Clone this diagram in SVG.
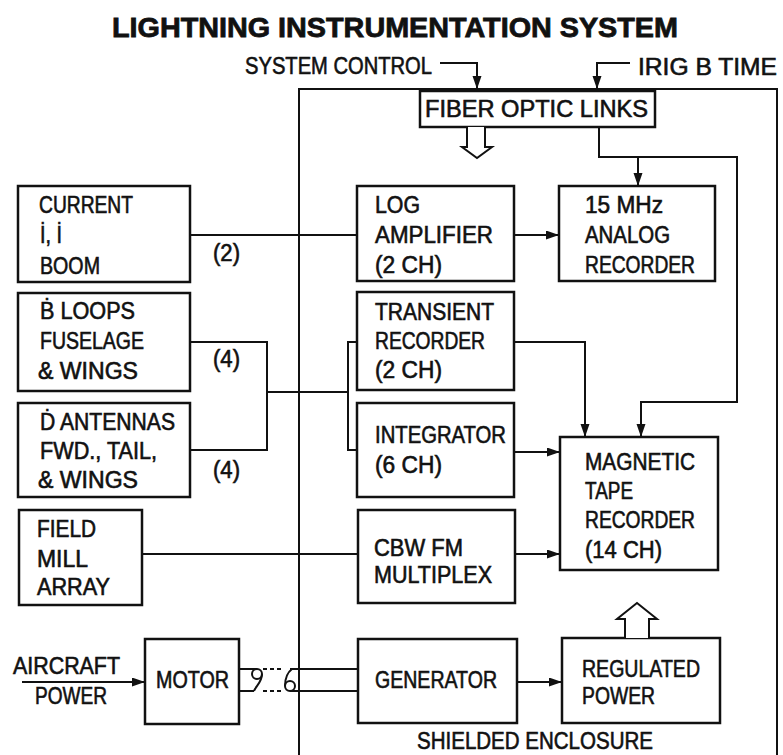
<svg xmlns="http://www.w3.org/2000/svg" width="783" height="755" viewBox="0 0 783 755">
<style>
.t{font-family:"Liberation Sans",Arial,sans-serif;font-size:23px;fill:#111;stroke:#111;stroke-width:0.6}
.ti{font-family:"Liberation Sans",Arial,sans-serif;font-size:28px;font-weight:bold;fill:#111;stroke:#111;stroke-width:0.8}
.b{fill:none;stroke:#111;stroke-width:2.5}
.c{fill:none;stroke:#111;stroke-width:2}
.a{marker-end:url(#ah)}
.h{fill:#fff;stroke:#111;stroke-width:2;stroke-linejoin:miter}
</style>
<defs>
<marker id="ah" markerUnits="userSpaceOnUse" markerWidth="14" markerHeight="10" refX="13" refY="4.5" orient="auto">
<path d="M0,0 L13,4.5 L0,9 z" fill="#111"/>
</marker>
</defs>
<rect width="783" height="755" fill="#fff"/>
<text class="ti" x="112" y="37" textLength="566" lengthAdjust="spacingAndGlyphs">LIGHTNING INSTRUMENTATION SYSTEM</text>
<text class="t" x="245" y="74" textLength="187" lengthAdjust="spacingAndGlyphs">SYSTEM CONTROL</text>
<text class="t" x="638" y="75" textLength="139" lengthAdjust="spacingAndGlyphs">IRIG B TIME</text>
<g id="enclosure">
<path class="c" d="M299,755 V89 H777 V755"/>
<text class="t" x="417" y="749" textLength="236" lengthAdjust="spacingAndGlyphs">SHIELDED ENCLOSURE</text>
</g>
<g id="fiber">
<rect class="b" x="420" y="91" width="235" height="36" fill="#fff"/>
<text class="t" x="425" y="117" textLength="223" lengthAdjust="spacingAndGlyphs">FIBER OPTIC LINKS</text>
</g>
<g id="current">
<rect class="b" x="18" y="186" width="172" height="96"/>
<text class="t" x="39" y="213" textLength="94" lengthAdjust="spacingAndGlyphs">CURRENT</text>
<text class="t" x="40" y="243" textLength="22" lengthAdjust="spacingAndGlyphs">İ, İ</text>
<text class="t" x="40" y="274" textLength="60" lengthAdjust="spacingAndGlyphs">BOOM</text>
</g>
<g id="bloops">
<rect class="b" x="18" y="293" width="172" height="98"/>
<text class="t" x="40" y="319" textLength="95" lengthAdjust="spacingAndGlyphs">Ḃ LOOPS</text>
<text class="t" x="40" y="349" textLength="104" lengthAdjust="spacingAndGlyphs">FUSELAGE</text>
<text class="t" x="38" y="379" textLength="100" lengthAdjust="spacingAndGlyphs">&amp; WINGS</text>
</g>
<g id="dantennas">
<rect class="b" x="18" y="403" width="172" height="94"/>
<text class="t" x="40" y="430" textLength="135" lengthAdjust="spacingAndGlyphs">Ḋ ANTENNAS</text>
<text class="t" x="40" y="459" textLength="117" lengthAdjust="spacingAndGlyphs">FWD., TAIL,</text>
<text class="t" x="38" y="488" textLength="100" lengthAdjust="spacingAndGlyphs">&amp; WINGS</text>
</g>
<g id="fieldmill">
<rect class="b" x="19" y="510" width="123" height="95"/>
<text class="t" x="37" y="537" textLength="59" lengthAdjust="spacingAndGlyphs">FIELD</text>
<text class="t" x="37" y="567" textLength="51" lengthAdjust="spacingAndGlyphs">MILL</text>
<text class="t" x="37" y="595" textLength="73" lengthAdjust="spacingAndGlyphs">ARRAY</text>
</g>
<g id="motor">
<rect class="b" x="145" y="639" width="94" height="85"/>
<text class="t" x="156" y="688" textLength="73" lengthAdjust="spacingAndGlyphs">MOTOR</text>
</g>
<g id="aircraftpower">
<text class="t" x="13" y="674" textLength="107" lengthAdjust="spacingAndGlyphs">AIRCRAFT</text>
<text class="t" x="35" y="704" textLength="72" lengthAdjust="spacingAndGlyphs">POWER</text>
</g>
<g id="logamp">
<rect class="b" x="357" y="186" width="157" height="95"/>
<text class="t" x="375" y="213" textLength="45" lengthAdjust="spacingAndGlyphs">LOG</text>
<text class="t" x="375" y="243" textLength="118" lengthAdjust="spacingAndGlyphs">AMPLIFIER</text>
<text class="t" x="375" y="273" textLength="67" lengthAdjust="spacingAndGlyphs">(2 CH)</text>
</g>
<g id="analog">
<rect class="b" x="559" y="186" width="156" height="95"/>
<text class="t" x="585" y="213" textLength="78" lengthAdjust="spacingAndGlyphs">15 MHz</text>
<text class="t" x="585" y="243" textLength="85" lengthAdjust="spacingAndGlyphs">ANALOG</text>
<text class="t" x="585" y="273" textLength="110" lengthAdjust="spacingAndGlyphs">RECORDER</text>
</g>
<g id="transient">
<rect class="b" x="357" y="292" width="157" height="98"/>
<text class="t" x="375" y="320" textLength="119" lengthAdjust="spacingAndGlyphs">TRANSIENT</text>
<text class="t" x="375" y="349" textLength="110" lengthAdjust="spacingAndGlyphs">RECORDER</text>
<text class="t" x="375" y="378" textLength="67" lengthAdjust="spacingAndGlyphs">(2 CH)</text>
</g>
<g id="integrator">
<rect class="b" x="357" y="403" width="157" height="94"/>
<text class="t" x="375" y="443" textLength="131" lengthAdjust="spacingAndGlyphs">INTEGRATOR</text>
<text class="t" x="375" y="473" textLength="67" lengthAdjust="spacingAndGlyphs">(6 CH)</text>
</g>
<g id="magtape">
<rect class="b" x="560" y="437" width="158" height="133"/>
<text class="t" x="585" y="470" textLength="110" lengthAdjust="spacingAndGlyphs">MAGNETIC</text>
<text class="t" x="585" y="499" textLength="48" lengthAdjust="spacingAndGlyphs">TAPE</text>
<text class="t" x="585" y="528" textLength="110" lengthAdjust="spacingAndGlyphs">RECORDER</text>
<text class="t" x="585" y="558" textLength="77" lengthAdjust="spacingAndGlyphs">(14 CH)</text>
</g>
<g id="cbw">
<rect class="b" x="358" y="510" width="157" height="93"/>
<text class="t" x="374" y="556" textLength="89" lengthAdjust="spacingAndGlyphs">CBW FM</text>
<text class="t" x="374" y="583" textLength="118" lengthAdjust="spacingAndGlyphs">MULTIPLEX</text>
</g>
<g id="generator">
<rect class="b" x="358" y="639" width="159" height="84"/>
<text class="t" x="375" y="688" textLength="122" lengthAdjust="spacingAndGlyphs">GENERATOR</text>
</g>
<g id="regulated">
<rect class="b" x="562" y="638" width="158" height="85"/>
<text class="t" x="582" y="677" textLength="118" lengthAdjust="spacingAndGlyphs">REGULATED</text>
<text class="t" x="582" y="704" textLength="73" lengthAdjust="spacingAndGlyphs">POWER</text>
</g>
<g id="connectors">
<path class="c a" d="M440,63 H477 V89"/>
<path class="c a" d="M630,63 H597 V89"/>
<path class="c a" d="M599,127 V157 H737 V402 H641 V437"/>
<path class="c a" d="M638,157 V186"/>
<path class="h" d="M467,127 V147 H462 L477,158 L492,147 H485 V127"/>
<path class="c" d="M190,235 H357"/>
<path class="c a" d="M514,235 H559"/>
<path class="c" d="M190,342 H267 V450 H190 M267,392 H348 M357,342 H348 V450 H357"/>
<path class="c a" d="M514,342 H585 V437"/>
<path class="c a" d="M514,452 H560"/>
<path class="c" d="M142,554 H358"/>
<path class="c a" d="M515,554 H560"/>
<path class="c a" d="M517,682 H562"/>
<path class="c a" d="M22,682 H145"/>
<path class="h" d="M625,638 V619 H617 L637,603 L657,619 H649 V638"/>
<path class="c" d="M239,669 H257 M239,691 H254"/>
<circle class="c" cx="257" cy="674" r="5"/>
<path class="c" d="M262,674 C262,682 256,686 254,691"/>
<path class="c" d="M263,669 H283 M263,691 H283" stroke-dasharray="4 3"/>
<circle class="c" cx="290" cy="686" r="5"/>
<path class="c" d="M285,686 C285,678 288,672 292,669"/>
<path class="c" d="M290,669 H358 M290,691 H358"/>
<text class="t" x="213" y="261" textLength="27" lengthAdjust="spacingAndGlyphs">(2)</text>
<text class="t" x="213" y="367" textLength="27" lengthAdjust="spacingAndGlyphs">(4)</text>
<text class="t" x="213" y="478" textLength="27" lengthAdjust="spacingAndGlyphs">(4)</text>
</g>
</svg>
